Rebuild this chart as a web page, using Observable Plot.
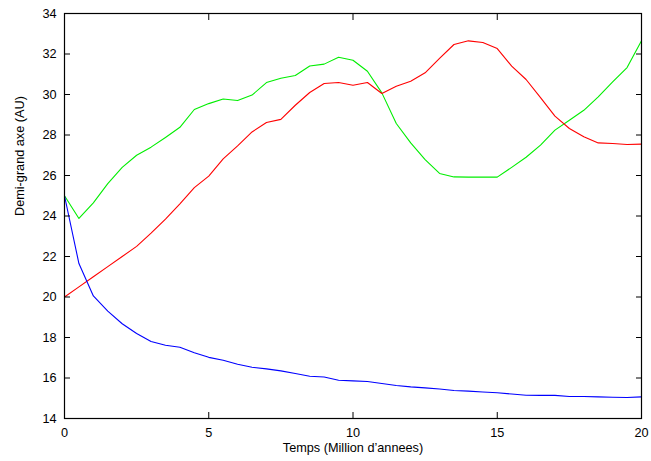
<!DOCTYPE html>
<html>
<head>
<meta charset="utf-8">
<script src="https://cdn.jsdelivr.net/npm/d3@7"></script>
<script src="https://cdn.jsdelivr.net/npm/@observablehq/plot@0.6"></script>
<style>
  html, body { margin: 0; padding: 0; background: #fff; }
</style>
</head>
<body>
<div id="chart"></div>
<script>
const times = d3.range(0, 20.001, 0.5);
const redSeries = [20.0, 20.5, 21.0, 21.5, 22.0, 22.5, 23.15, 23.85, 24.6, 25.4, 25.97, 26.82, 27.46, 28.15, 28.62, 28.77, 29.47, 30.1, 30.54, 30.59, 30.46, 30.59, 30.05, 30.41, 30.65, 31.07, 31.78, 32.47, 32.65, 32.57, 32.27, 31.4, 30.74, 29.85, 28.93, 28.32, 27.91, 27.61, 27.58, 27.53, 27.55];
const greenSeries = [25.0, 23.88, 24.65, 25.6, 26.4, 27.0, 27.4, 27.88, 28.38, 29.26, 29.55, 29.78, 29.7, 29.97, 30.59, 30.8, 30.94, 31.41, 31.5, 31.84, 31.69, 31.15, 30.08, 28.57, 27.61, 26.78, 26.1, 25.93, 25.92, 25.92, 25.92, 26.4, 26.9, 27.5, 28.24, 28.73, 29.22, 29.88, 30.62, 31.33, 32.65];
const blueSeries = [25.0, 21.65, 20.05, 19.3, 18.68, 18.2, 17.8, 17.62, 17.52, 17.25, 17.02, 16.88, 16.68, 16.53, 16.45, 16.35, 16.22, 16.09, 16.05, 15.89, 15.86, 15.83, 15.73, 15.63, 15.56, 15.51, 15.46, 15.38, 15.35, 15.31, 15.27, 15.21, 15.15, 15.14, 15.14, 15.09, 15.09, 15.07, 15.05, 15.04, 15.07];
const xTicks = [0, 5, 10, 15, 20];
const yTicks = [14, 16, 18, 20, 22, 24, 26, 28, 30, 32, 34];
const xLabel = "Temps (Million d\u2019annees)";
const yLabel = "Demi-grand axe (AU)";

const toRows = (vals) => times.map((t, i) => ({t, v: vals[i]}));
const red = toRows(redSeries), green = toRows(greenSeries), blue = toRows(blueSeries);

const fs = 12.7;
const chart = Plot.plot({
  width: 651,
  height: 461,
  marginLeft: 64,
  marginRight: 10,
  marginTop: 13,
  marginBottom: 43,
  style: {fontFamily: "'Liberation Sans', Arial, sans-serif", fontSize: fs + "px", color: "#000", background: "#fff"},
  x: {domain: [0, 20], label: null},
  y: {domain: [14, 34], label: null},
  marks: [
    Plot.lineY(green, {x: "t", y: "v", stroke: "#00ee00", strokeWidth: 1.1}),
    Plot.lineY(red, {x: "t", y: "v", stroke: "#ff0000", strokeWidth: 1.1}),
    Plot.lineY(blue, {x: "t", y: "v", stroke: "#0000ff", strokeWidth: 1.1}),
    Plot.frame({stroke: "#000", strokeWidth: 1.2}),
    Plot.axisX({anchor: "bottom", ticks: xTicks, tickSize: 0, tickPadding: 9, fontSize: fs, fill: "#000"}),
    Plot.axisX({anchor: "bottom", ticks: xTicks, tickSize: 6, dy: -6, tickFormat: () => "", stroke: "#000"}),
    Plot.axisX({anchor: "top", ticks: xTicks, tickSize: 6, dy: 6, tickFormat: () => "", stroke: "#000"}),
    Plot.axisY({anchor: "left", ticks: yTicks, tickSize: 0, tickPadding: 8, fontSize: fs, fill: "#000"}),
    Plot.axisY({anchor: "left", ticks: yTicks, tickSize: 6, dx: 6, tickFormat: () => "", stroke: "#000"}),
    Plot.axisY({anchor: "right", ticks: yTicks, tickSize: 6, dx: -6, tickFormat: () => "", stroke: "#000"}),
    Plot.text([xLabel], {frameAnchor: "bottom", dy: 33, fontSize: fs, fill: "#000"}),
    Plot.text([yLabel], {frameAnchor: "left", dx: -45, rotate: -90, fontSize: fs, fill: "#000"})
  ]
});
document.getElementById("chart").appendChild(chart);
</script>
</body>
</html>
